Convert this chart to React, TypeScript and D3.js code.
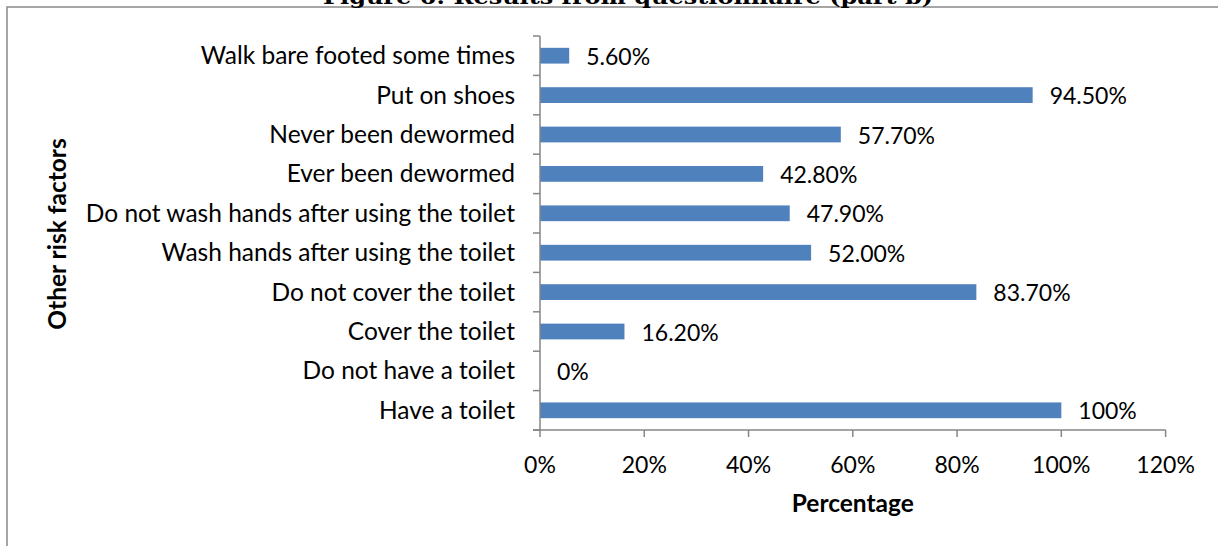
import React from "react";
import * as d3 from "d3";

const categories = [
  "Walk bare footed some times",
  "Put on shoes",
  "Never been dewormed",
  "Ever been dewormed",
  "Do not wash hands after using the toilet",
  "Wash hands after using the toilet",
  "Do not cover the toilet",
  "Cover the toilet",
  "Do not have a toilet",
  "Have a toilet",
];
const values = [0.056, 0.945, 0.577, 0.428, 0.479, 0.52, 0.837, 0.162, 0, 1.0];
const valueLabels = ["5.60%", "94.50%", "57.70%", "42.80%", "47.90%", "52.00%", "83.70%", "16.20%", "0%", "100%"];
const xTicks = [0, 0.2, 0.4, 0.6, 0.8, 1.0, 1.2];
const xTickLabels = ["0%", "20%", "40%", "60%", "80%", "100%", "120%"];

const W = 1218;
const H = 546;
const FONT = "Lato, 'Open Sans', sans-serif";
const AXIS = "#868686";
const BAR = "#4f81bd";

export default function App() {
  const x = d3.scaleLinear().domain([0, 1.2]).range([540, 1165.6]);
  const y = d3.scaleBand<string>().domain(categories).range([36, 430]).paddingInner(0.6).paddingOuter(0.3);
  const band = d3.scaleBand<string>().domain(categories).range([36, 430]);
  const fsLabel = 24.5;
  const fsNum = 23;

  return (
    <svg width={W} height={H} style={{ position: "absolute", left: 0, top: 0, background: "#fff" }}>
      <rect x={7} y={7} width={1400} height={700} fill="none" stroke="#898989" strokeWidth={1.5} />
      <text
        x={628}
        y={4}
        textAnchor="middle"
        fontFamily="'DejaVu Serif', serif"
        fontWeight="bold"
        fontSize={20}
        textLength={610}
        lengthAdjust="spacingAndGlyphs"
        fill="#000"
      >
        Figure 6: Results from questionnaire (part b)
      </text>

      {categories.map((c, i) => (
        <rect
          key={c}
          x={x(0)}
          y={y(c)!}
          width={x(values[i]) - x(0)}
          height={y.bandwidth()}
          fill={BAR}
        />
      ))}

      {/* y axis */}
      <line x1={x(0)} x2={x(0)} y1={36} y2={430} stroke={AXIS} strokeWidth={1.5} />
      {[...categories.map((c) => band(c)!), 430].map((v, i) => (
        <line key={i} x1={x(0) - 7} x2={x(0)} y1={v} y2={v} stroke={AXIS} strokeWidth={1.5} />
      ))}
      {/* x axis */}
      <line x1={x(0) - 7} x2={x(1.2)} y1={430} y2={430} stroke={AXIS} strokeWidth={1.5} />
      {xTicks.map((t) => (
        <line key={t} x1={x(t)} x2={x(t)} y1={430} y2={437} stroke={AXIS} strokeWidth={1.5} />
      ))}
      {xTicks.map((t, i) => (
        <text key={t} x={x(t)} y={472.5} textAnchor="middle" fontFamily={FONT} fontSize={fsNum} fill="#000">
          {xTickLabels[i]}
        </text>
      ))}

      {categories.map((c) => (
        <text
          key={c}
          x={515}
          y={band(c)! + band.bandwidth() / 2}
          dy="0.35em"
          textAnchor="end"
          fontFamily={FONT}
          fontSize={fsLabel}
          fill="#000"
        >
          {c}
        </text>
      ))}

      {categories.map((c, i) => (
        <text
          key={c}
          x={x(values[i]) + 17}
          y={y(c)! + y.bandwidth() / 2 + 1}
          dy="0.35em"
          fontFamily={FONT}
          fontSize={fsNum}
          fill="#000"
        >
          {valueLabels[i]}
        </text>
      ))}

      <text x={852.8} y={512} textAnchor="middle" fontFamily={FONT} fontWeight="bold" fontSize={fsLabel} fill="#000">
        Percentage
      </text>
      <text
        transform={`translate(66,234) rotate(-90)`}
        textAnchor="middle"
        fontFamily={FONT}
        fontWeight="bold"
        fontSize={fsLabel}
        fill="#000"
      >
        Other risk factors
      </text>
    </svg>
  );
}
